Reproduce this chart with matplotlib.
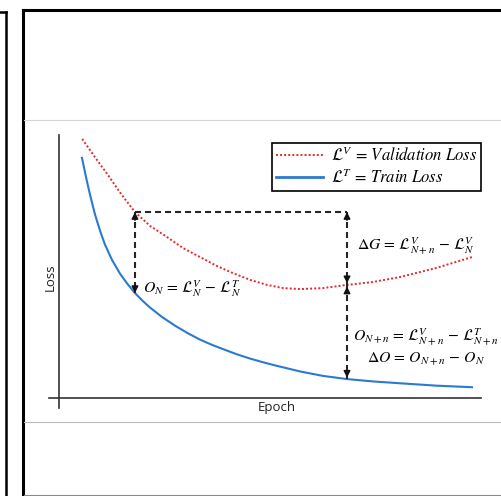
import matplotlib
matplotlib.use('Agg')
import matplotlib.pyplot as plt
from matplotlib.lines import Line2D
import numpy as np

# ---------------- data ----------------
epoch_val = [5.5, 8.5, 11.6, 14.7, 18.0, 21.6, 25.6, 29.4, 33.4, 37.4, 41.2,
             45.3, 49.3, 53.1, 57.1, 62.6, 68.25, 74.4, 80.8, 89.3, 97.9]
val_loss = [0.985, 0.916, 0.848, 0.776, 0.707, 0.654, 0.612, 0.570, 0.536, 0.502, 0.475,
            0.449, 0.430, 0.418, 0.414, 0.418, 0.430, 0.441, 0.460, 0.494, 0.536]

epoch_train = [5.45, 6.40, 7.35, 8.53, 9.72, 10.90, 12.56, 14.45, 16.11, 18.0,
               19.91, 21.56, 24.41, 27.49, 30.57, 33.41, 36.26, 39.34, 42.18, 45.26,
               48.10, 51.18, 54.03, 57.11, 62.56, 68.25, 74.41, 80.81, 89.34, 97.87]
train_loss = [0.913, 0.840, 0.773, 0.698, 0.636, 0.583, 0.525, 0.473, 0.436, 0.399,
              0.368, 0.344, 0.308, 0.275, 0.246, 0.222, 0.202, 0.183, 0.166, 0.150,
              0.137, 0.124, 0.113, 0.101, 0.084, 0.072, 0.063, 0.056, 0.047, 0.041]

epoch_N = 18.0
epoch_Nn = 68.25

label_val = r'$\mathcal{L}^V\,=\,Validation\ Loss$'
label_train = r'$\mathcal{L}^T\,=\,Train\ Loss$'
txt_ON = r'$O_N\,=\,\mathcal{L}_N^V\,-\,\mathcal{L}_N^T$'
txt_dG = r'$\Delta G\,=\,\mathcal{L}_{N+n}^V\,-\,\mathcal{L}_N^V$'
txt_ONn = r'$O_{N+n}\,=\,\mathcal{L}_{N+n}^V\,-\,\mathcal{L}_{N+n}^T$'
txt_dO = r'$\Delta O\,=\,O_{N+n}\,-\,O_N$'

# ---------------- style ----------------
plt.rcParams['mathtext.fontset'] = 'stix'
plt.rcParams['font.family'] = ['Open Sans', 'DejaVu Sans']

W, H = 502, 496
fig = plt.figure(figsize=(W / 100, H / 100), dpi=100)


def fx(px):
    return px / W


def fy(py):
    return 1 - py / H


def fline(x0, y0, x1, y1, color, lw):
    fig.add_artist(Line2D([fx(x0), fx(x1)], [fy(y0), fy(y1)],
                          transform=fig.transFigure, color=color, lw=lw,
                          solid_capstyle='projecting'))


# frame decorations
fline(0, 12, 6, 12, 'black', 1.8)
fline(6, 12, 6, 496, 'black', 1.8)
fline(22.5, 9.5, 502, 9.5, 'black', 2.2)
fline(22.5, 9.5, 22.5, 496, 'black', 2.2)
fline(24, 494.5, 502, 494.5, '#8a8a8a', 0.8)
fline(24, 120, 502, 120, '#d6d6d6', 0.8)
fline(24, 421.5, 502, 421.5, '#b8b8b8', 0.8)

# axes
x0, x1, ytop, ybot = 59, 481, 135, 398
ax = fig.add_axes([fx(x0), fy(ybot), (x1 - x0) / W, (ybot - ytop) / H])
ax.set_xlim(0, 100)
ax.set_ylim(0, 1)
ax.axis('off')

axc = '#333333'
ax.plot([0, 0], [-10 / 263, 1], transform=ax.transAxes, color=axc, lw=1.2, clip_on=False)
ax.plot([-10 / 422, 1], [0, 0], transform=ax.transAxes, color=axc, lw=1.2, clip_on=False)
ax.text(0.517, -0.038, 'Epoch', transform=ax.transAxes, ha='center', va='center',
        fontsize=9.5, color='#222222')
ax.text(-0.0213, 0.46, 'Loss', transform=ax.transAxes, ha='center', va='center',
        rotation=90, fontsize=9.5, color='#222222')

red = '#e8262b'
blue = '#2a7ad2'
ax.plot(epoch_val, val_loss, color=red, ls=(0, (1, 1.1)), lw=1.4)
ax.plot(epoch_train, train_loss, color=blue, lw=1.5)

vN = float(np.interp(epoch_N, epoch_val, val_loss))
tN = float(np.interp(epoch_N, epoch_train, train_loss))
vNn = float(np.interp(epoch_Nn, epoch_val, val_loss))
tNn = float(np.interp(epoch_Nn, epoch_train, train_loss))

dc = '#262626'
dash = (0, (2.9, 1.9))
ax.plot([epoch_N, epoch_Nn], [vN, vN], color=dc, lw=1.5, ls=dash)
ax.plot([epoch_N, epoch_N], [vN, tN], color=dc, lw=1.5, ls=dash)
ax.plot([epoch_Nn, epoch_Nn], [vN, vNn], color=dc, lw=1.5, ls=dash)
ax.plot([epoch_Nn, epoch_Nn], [vNn, tNn], color=dc, lw=1.5, ls=dash)


def head(x, y, up, shrink=0):
    ax.annotate('', xy=(x, y), xytext=(0, -6 if up else 6), textcoords='offset points',
                arrowprops=dict(arrowstyle='-|>,head_length=0.4,head_width=0.2',
                                color='#111111', lw=1.0, shrinkA=0, shrinkB=shrink,
                                mutation_scale=10))


head(epoch_N, vN, True)
head(epoch_N, tN, False)
head(epoch_Nn, vN, True)
head(epoch_Nn, vNn, False, 1.2)
head(epoch_Nn, vNn, True, 1.2)
head(epoch_Nn, tNn, False, 1.0)

fs = 11.3
ax.annotate(txt_ON, xy=(epoch_N, tN), xytext=(5.8, 3), textcoords='offset points',
            ha='left', va='center', fontsize=fs)
ax.annotate(txt_dG, xy=(epoch_Nn, vN), xytext=(7, -24.5), textcoords='offset points',
            ha='left', va='center', fontsize=fs)
ax.annotate(txt_ONn, xy=(epoch_Nn, vNn), xytext=(57, -37.5), textcoords='offset points',
            ha='center', va='center', fontsize=fs)
ax.annotate(txt_dO, xy=(epoch_Nn, vNn), xytext=(57, -53.5), textcoords='offset points',
            ha='center', va='center', fontsize=fs)

handles = [Line2D([], [], color=red, ls=(0, (1, 1.1)), lw=1.4),
           Line2D([], [], color=blue, lw=2.0)]
leg = ax.legend(handles, [label_val, label_train], loc='upper right',
                bbox_to_anchor=(fx(481), fy(143)), bbox_transform=fig.transFigure,
                borderaxespad=0, fancybox=False, edgecolor='black', framealpha=1,
                fontsize=12, handlelength=2.8, handletextpad=0.45, labelspacing=0.2,
                borderpad=0.25)
leg.get_frame().set_linewidth(1.2)

fig.savefig('out.png', dpi=100)
